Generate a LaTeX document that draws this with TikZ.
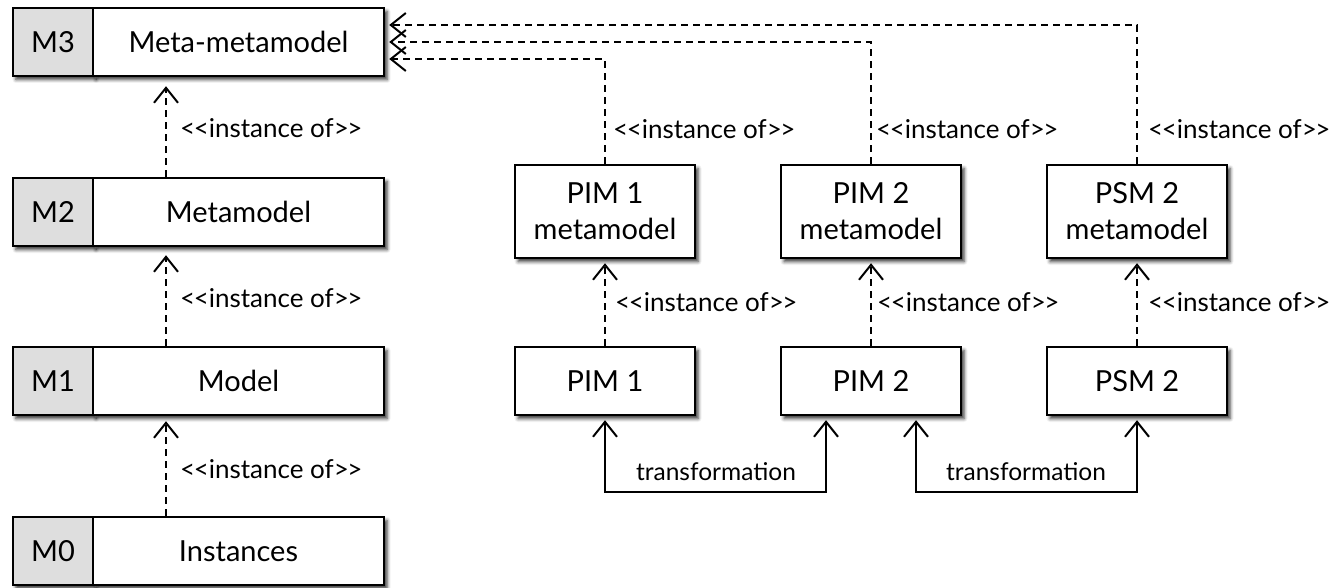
\documentclass[tikz,border=0pt]{standalone}
\usepackage{fontspec}
\newfontfamily\diagfont{Lato}
\usetikzlibrary{arrows.meta,shadows.blur}

\newcommand\guilo{<\kern-1.5pt<}
\newcommand\guilc{>\kern-1.5pt>}

\tikzset{
  box/.style={draw=black, line width=2.4pt, fill=white, inner sep=0pt,
    font=\diagfont\fontsize{29}{36}\selectfont, align=center,
    blur shadow={shadow xshift=3pt, shadow yshift=-3.5pt, shadow blur radius=3.5pt, shadow opacity=80}},
  lvlbox/.style={box, minimum width=291pt, minimum height=68pt},
  tagbox/.style={box, fill=black!13, minimum width=80pt, minimum height=68pt},
  mmbox/.style={box, minimum width=180pt, minimum height=93pt},
  mbox/.style={box, minimum width=180pt, minimum height=68pt},
  lbl/.style={font=\diagfont\fontsize{26}{28}\selectfont, inner sep=0pt, anchor=west},
  translbl/.style={font=\diagfont\fontsize{24.5}{28}\selectfont, inner sep=0pt},
  barb/.tip={Straight Barb[length=15pt, width=24pt]},
  inst/.style={line width=2pt, dash pattern=on 7pt off 5pt, -barb, shorten >=4pt},
  trans/.style={line width=2pt, barb-barb, shorten <=4pt, shorten >=4pt}
}

\begin{document}
\begin{tikzpicture}[x=1pt, y=-1pt]
\useasboundingbox (0,0) rectangle (1332,588);

% modelling levels
\node[tagbox] (m3tag) at (53,42) {M3};
\node[lvlbox] (m3) at (238.5,42) {Meta-metamodel};
\node[tagbox] (m2tag) at (53,212) {M2};
\node[lvlbox] (m2) at (238.5,212) {Metamodel};
\node[tagbox] (m1tag) at (53,381) {M1};
\node[lvlbox] (m1) at (238.5,381) {Model};
\node[tagbox] (m0tag) at (53,551) {M0};
\node[lvlbox] (m0) at (238.5,551) {Instances};

\draw[inst, shorten >=9pt] ([xshift=-72.5pt]m2.north) -- ([xshift=-72.5pt]m3.south);
\draw[inst, shorten >=8pt] ([xshift=-72.5pt]m1.north) -- ([xshift=-72.5pt]m2.south);
\draw[inst, shorten >=5pt] ([xshift=-72.5pt]m0.north) -- ([xshift=-72.5pt]m1.south);
\node[lbl] (lm2) at (180,128) {\guilo instance of\guilc};
\node[lbl] (lm1) at (180,298) {\guilo instance of\guilc};
\node[lbl] (lm0) at (180,469) {\guilo instance of\guilc};

% metamodels
\node[mmbox] (pim1mm) at (605,211.5) {PIM 1\\metamodel};
\node[mmbox] (pim2mm) at (871,211.5) {PIM 2\\metamodel};
\node[mmbox] (psm2mm) at (1137,211.5) {PSM 2\\metamodel};

% models
\node[mbox] (pim1) at (605,381) {PIM 1};
\node[mbox] (pim2) at (871,381) {PIM 2};
\node[mbox] (psm2) at (1137,381) {PSM 2};

% metamodels are instances of the meta-metamodel
\draw[inst] (pim1mm.north) |- ([yshift=-17pt]m3.east);
\draw[inst] (pim2mm.north) |- (m3.east);
\draw[inst] (psm2mm.north) |- ([yshift=17pt]m3.east);
\node[lbl] (lp1) at (613,129) {\guilo instance of\guilc};
\node[lbl] (lp2) at (876,129) {\guilo instance of\guilc};
\node[lbl] (lp3) at (1148,129) {\guilo instance of\guilc};

% models are instances of their metamodels
\draw[inst] (pim1.north) -- (pim1mm.south);
\draw[inst] (pim2.north) -- (pim2mm.south);
\draw[inst] (psm2.north) -- (psm2mm.south);
\node[lbl] (lq1) at (615,302) {\guilo instance of\guilc};
\node[lbl] (lq2) at (877,302) {\guilo instance of\guilc};
\node[lbl] (lq3) at (1148,302) {\guilo instance of\guilc};

% transformations
\draw[trans] (pim1.south) -- ++(0,76) -| ([xshift=-45pt]pim2.south);
\draw[trans] ([xshift=45pt]pim2.south) -- ++(0,76) -| (psm2.south);
\node[translbl] (t1) at (716,472) {transformation};
\node[translbl] (t2) at (1026,472) {transformation};
\end{tikzpicture}
\end{document}
